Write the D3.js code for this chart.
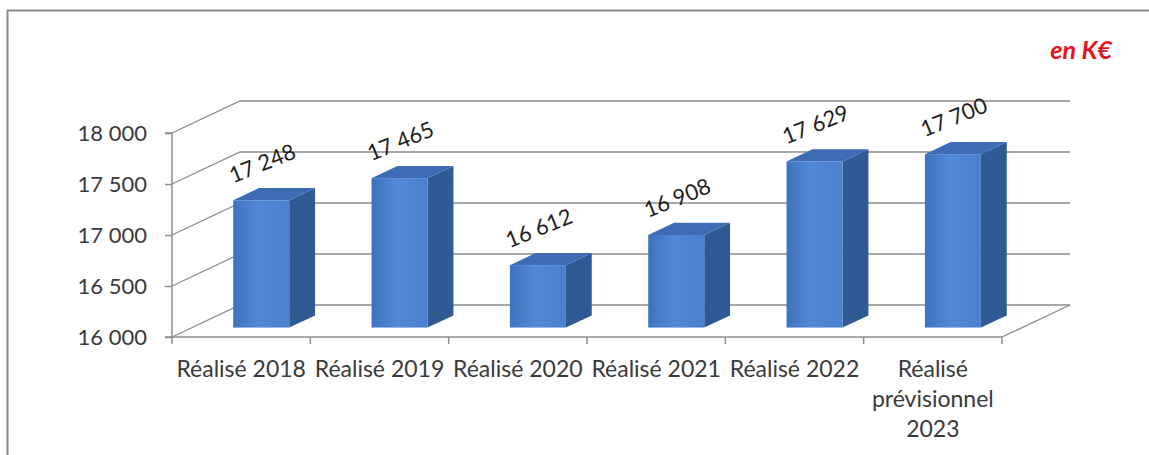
<!DOCTYPE html>
<html>
<head>
<meta charset="utf-8">
<script src="https://cdn.jsdelivr.net/npm/d3@7"></script>
<style>
  html, body { margin: 0; padding: 0; background: #fff; }
  svg { display: block; }
  text { font-family: Lato, "Open Sans", sans-serif; }
</style>
</head>
<body>
<svg id="chart" width="1149" height="455"></svg>
<script>
const categories = ["Réalisé 2018", "Réalisé 2019", "Réalisé 2020", "Réalisé 2021", "Réalisé 2022", "Réalisé prévisionnel 2023"];
const values = [17248, 17465, 16612, 16908, 17629, 17700];
const yTicks = [16000, 16500, 17000, 17500, 18000];
const unitLabel = "en K€";

const W = 1149, H = 455;
const svg = d3.select("#chart");

const fr = d3.formatLocale({decimal: ",", thousands: " ", grouping: [3], currency: ["", " €"]});
const fmt = fr.format(",d");

// plot geometry
const x0 = 172, x1 = 1002, yTop = 133, yBot = 337;
const depth = {dx: 68, dy: -32};
const barStart = 0.295, barDepth = 0.38; // fractions of depth
const barWidthFrac = 0.405;

const x = d3.scaleBand().domain(categories).range([x0, x1]).paddingInner(0).paddingOuter(0);
const y = d3.scaleLinear().domain([16000, 18000]).range([yBot, yTop]);

// frame
svg.append("rect").attr("x", 7.5).attr("y", 10.5).attr("width", W).attr("height", H)
  .attr("fill", "#fff").attr("stroke", "#8a8a8a").attr("stroke-width", 2);

const defs = svg.append("defs");
const g1 = defs.append("linearGradient").attr("id", "front").attr("x1", "0").attr("x2", "1").attr("y1", "0").attr("y2", "0");
g1.append("stop").attr("offset", "0").attr("stop-color", "#3e72be");
g1.append("stop").attr("offset", "0.45").attr("stop-color", "#5089d6");
g1.append("stop").attr("offset", "1").attr("stop-color", "#4a80cd");

const grid = svg.append("g").attr("fill", "none").attr("stroke", "#8c8c8c").attr("stroke-width", 1.3);
// gridlines: left wall diagonal + back wall horizontal
yTicks.forEach(t => {
  const yy = y(t);
  grid.append("path").attr("d", d3.line()([[x0, yy], [x0 + depth.dx, yy + depth.dy], [x1 + depth.dx, yy + depth.dy]]));
});
// floor right edge
grid.append("path").attr("d", d3.line()([[x1, y(16000)], [x1 + depth.dx, y(16000) + depth.dy]]));

// bars
const bars = svg.append("g");
categories.forEach((c, i) => {
  const v = values[i];
  const bw = x.bandwidth() * barWidthFrac;
  const cx = x(c) + x.bandwidth() / 2 + barStart * depth.dx;
  const by = y(16000) + barStart * depth.dy;
  const ty = by - (y(16000) - y(v));
  const ddx = barDepth * depth.dx, ddy = barDepth * depth.dy;
  const l = cx - bw / 2, r = cx + bw / 2;
  bars.append("path").attr("d", d3.line()([[r, ty], [r + ddx, ty + ddy], [r + ddx, by + ddy], [r, by]]) + "Z")
    .attr("fill", "#2f5a93");
  bars.append("path").attr("d", d3.line()([[l, ty], [l + ddx, ty + ddy], [r + ddx, ty + ddy], [r, ty]]) + "Z")
    .attr("fill", "#3b6cb4");
  bars.append("rect").attr("x", l).attr("y", ty).attr("width", bw).attr("height", by - ty)
    .attr("fill", "url(#front)");
  bars.append("text")
    .attr("transform", `translate(${cx + 1},${ty - 37}) rotate(-22)`)
    .attr("text-anchor", "middle").attr("dy", "0.35em")
    .attr("font-size", 22).attr("fill", "#1e1e1e")
    .text(fmt(v));
});

// y axis
const yAxis = d3.axisLeft(y).tickValues(yTicks).tickSize(7).tickPadding(18).tickFormat(fmt);
const ya = svg.append("g").attr("transform", `translate(${x0},0)`).call(yAxis);
ya.select(".domain").attr("stroke", "#8c8c8c").attr("stroke-width", 1.5).attr("d", `M-7,${yTop}H0V${yBot}H-7`);
ya.selectAll(".tick line").attr("stroke", "#8c8c8c").attr("stroke-width", 1.5);
ya.selectAll(".tick text").attr("font-size", 22).attr("fill", "#3a3a3a").attr("font-family", "Lato, sans-serif");

// x axis line + boundary ticks
const xa = svg.append("g").attr("stroke", "#8c8c8c").attr("stroke-width", 1.5);
xa.append("line").attr("x1", x0).attr("x2", x1).attr("y1", yBot).attr("y2", yBot);
const bounds = categories.map(c => x(c)).concat([x(categories[categories.length - 1]) + x.bandwidth()]);
bounds.forEach(b => xa.append("line").attr("x1", b).attr("x2", b).attr("y1", yBot).attr("y2", yBot + 7));

// x labels with wrapping
const xl = svg.append("g").attr("font-size", 23).attr("fill", "#3a3a3a").attr("text-anchor", "middle");
categories.forEach(c => {
  const t = xl.append("text").attr("x", x(c) + x.bandwidth() / 2).attr("y", 377);
  const words = c.split(" ");
  let lines = [], cur = [];
  const probe = t.append("tspan");
  words.forEach(w => {
    const test = cur.concat([w]).join(" ");
    probe.text(test);
    if (probe.node().getComputedTextLength() > x.bandwidth() - 1 && cur.length) {
      lines.push(cur.join(" ")); cur = [w];
    } else cur.push(w);
  });
  lines.push(cur.join(" "));
  probe.remove();
  lines.forEach((ln, k) => t.append("tspan").attr("x", x(c) + x.bandwidth() / 2).attr("y", 377 + k * 30).text(ln));
});

// unit label
svg.append("text").attr("x", 1112).attr("y", 59).attr("text-anchor", "end")
  .attr("font-size", 25).attr("font-weight", "bold").attr("font-style", "italic")
  .attr("fill", "#e8141c").text(unitLabel);
</script>
</body>
</html>
